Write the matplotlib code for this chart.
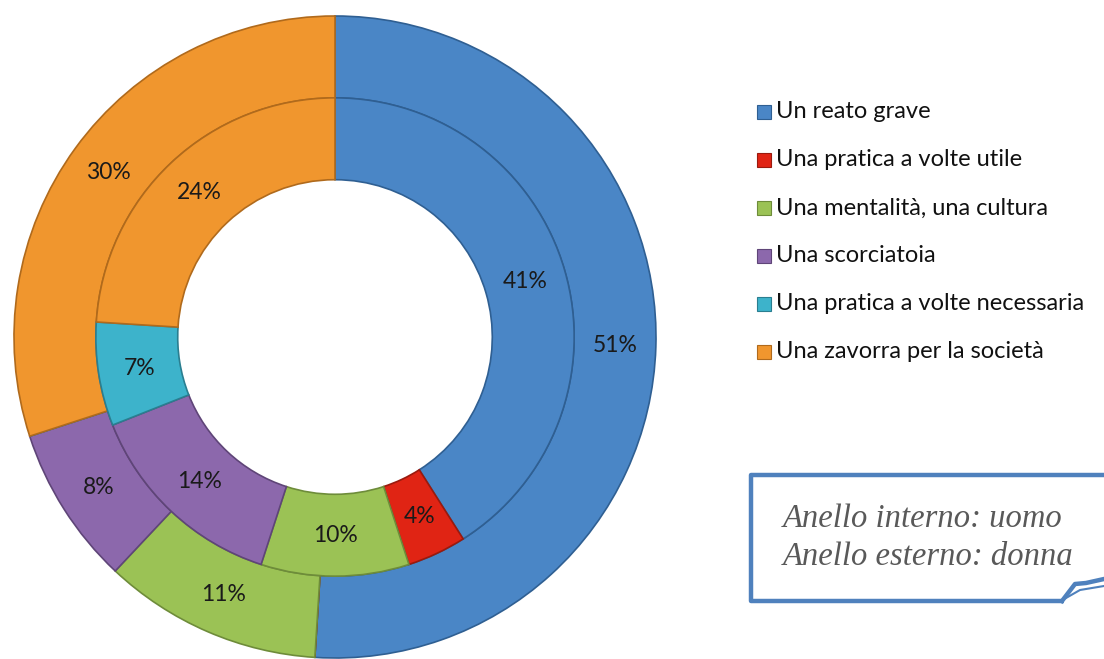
import matplotlib
matplotlib.use('Agg')
import matplotlib.pyplot as plt
import matplotlib.patches as mpatches
import numpy as np

# Data
categories = [
    'Un reato grave',
    'Una pratica a volte utile',
    'Una mentalità, una cultura',
    'Una scorciatoia',
    'Una pratica a volte necessaria',
    'Una zavorra per la società',
]
uomo = [41, 4, 10, 14, 7, 24]    # inner ring
donna = [51, 0, 11, 8, 0, 30]    # outer ring

COLORS = ['#4A86C6', '#E02414', '#9BC255', '#8C68AC', '#3DB3CB', '#F0962E']
EDGES = ['#2F5F92', '#9A1A0E', '#6E8C3A', '#5F4578', '#2A7E90', '#B06A1C']

fig = plt.figure(figsize=(11.04, 6.59), dpi=100, facecolor='white')
plt.rcParams['font.family'] = ['Lato', 'DejaVu Sans']

W, H = 1104, 659
cx, cy, R = 335, 337, 321
half = 330
ax = fig.add_axes([(cx - half) / W, (H - cy - half) / H, 2 * half / W, 2 * half / H])
ax.set_aspect('equal')
ax.axis('off')

r_outer, r_mid, r_hole = 1.0, 0.745, 0.49


def ring(values, radius, width):
    wedges, _ = ax.pie(values, radius=radius, colors=COLORS, startangle=90,
                       counterclock=False,
                       wedgeprops=dict(width=width, linewidth=1.2),
                       normalize=True)
    for w, ec in zip(wedges, EDGES):
        w.set_edgecolor(ec)
    # labels at mid radius of ring
    total = sum(values)
    start = 0.0
    rm = radius - width / 2
    for v in values:
        if v > 0:
            mid = (start + v / 2) / total * 2 * np.pi
            ax.text(rm * np.sin(mid), rm * np.cos(mid), f'{v}%',
                    ha='center', va='center', fontsize=16.5, color='#1A1A1A')
        start += v
    return wedges


ring(donna, r_outer, r_outer - r_mid)
ring(uomo, r_mid, r_mid - r_hole)
ax.set_xlim(-half / R, half / R)
ax.set_ylim(-half / R, half / R)

# Legend (drawn manually)
leg_x, leg_y0, leg_dy = 757, 112, 48
for i, (lab, c, ec) in enumerate(zip(categories, COLORS, EDGES)):
    y = leg_y0 + i * leg_dy
    fig.patches.append(mpatches.Rectangle((leg_x / W, (H - y - 7) / H), 14 / W, 14 / H,
                                          transform=fig.transFigure, facecolor=c,
                                          edgecolor=ec, linewidth=0.8))
    fig.text((leg_x + 19) / W, (H - y) / H, lab, ha='left', va='center',
             fontsize=17, color='#111111')

# Callout box
BOX = '#4F81BD'
bx0, by0, bx1, by1 = 751, 475, 1115, 601
fig.patches.append(mpatches.Rectangle((bx0 / W, (H - by1) / H), (bx1 - bx0) / W,
                                      (by1 - by0) / H, transform=fig.transFigure,
                                      facecolor='white', edgecolor=BOX,
                                      linewidth=3.2, joinstyle='round'))
# hide bottom border to the right of the pointer
fig.patches.append(mpatches.Rectangle((1064 / W, (H - 606) / H), 60 / W, 8 / H,
                                      transform=fig.transFigure, facecolor='white',
                                      edgecolor='none'))
tx = np.array([1062, 1075, 1086, 1104])
ty = np.array([601, 584, 583, 579])
fig.lines.append(plt.Line2D(tx / W, (H - ty) / H, transform=fig.transFigure,
                            color=BOX, linewidth=3.2, solid_joinstyle='round'))
fig.lines.append(plt.Line2D(np.array([1066, 1080, 1104]) / W,
                            (H - np.array([598, 590, 586])) / H,
                            transform=fig.transFigure, color=BOX, linewidth=1.5))

fig.text(783 / W, (H - 519) / H, 'Anello interno: uomo', ha='left', va='center',
         fontsize=23.5, style='italic', family='Liberation Serif', color='#595959')
fig.text(783 / W, (H - 557) / H, 'Anello esterno: donna', ha='left', va='center',
         fontsize=23.5, style='italic', family='Liberation Serif', color='#595959')

fig.savefig('out.png', dpi=100, facecolor='white')
